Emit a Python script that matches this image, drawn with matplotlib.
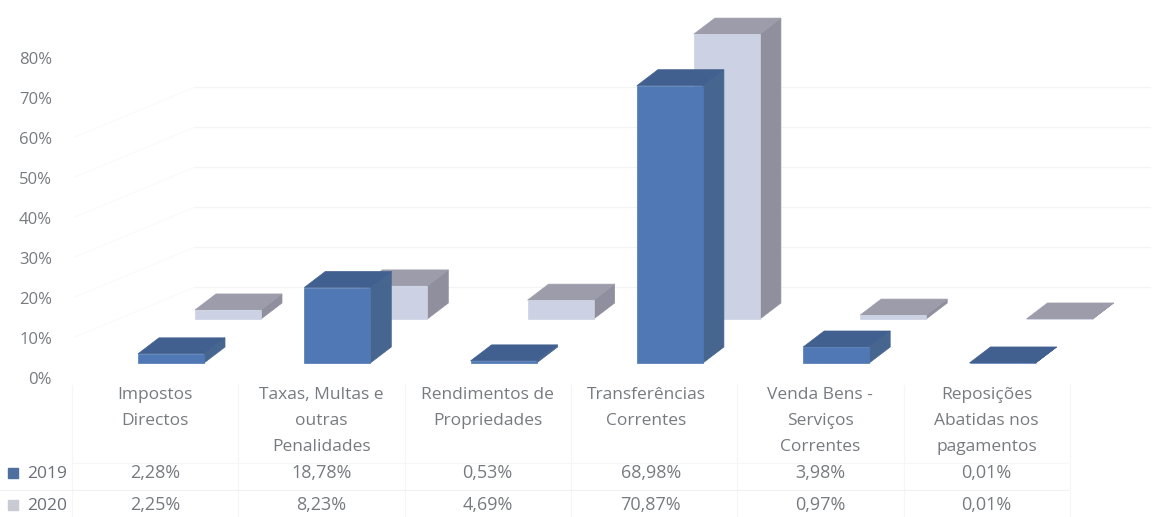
import matplotlib
matplotlib.use("Agg")
import matplotlib.pyplot as plt
from matplotlib.patches import Polygon, Rectangle

plt.rcParams['font.family'] = ['Open Sans', 'DejaVu Sans']

categorias = ["Impostos\nDirectos", "Taxas, Multas e\noutras\nPenalidades",
              "Rendimentos de\nPropriedades", "Transferências\nCorrentes",
              "Venda Bens -\nServiços\nCorrentes", "Reposições\nAbatidas nos\npagamentos"]
anos = ["2019", "2020"]
v2019 = [2.28, 18.78, 0.53, 68.98, 3.98, 0.01]
v2020 = [2.25, 8.23, 4.69, 70.87, 0.97, 0.01]
yticks = [0, 10, 20, 30, 40, 50, 60, 70, 80]

TXT = "#777b80"
PX = 4.02          # pixels por ponto percentual
DX, DY = 21, 16    # profundidade 3D
W = 66
PASSO = 166.3


def fmt(v):
    return f"{v:.2f}%".replace(".", ",")


def barra(ax, x, base, v, frente, topo, lado):
    y = base - v * PX
    # lado, topo e frente
    ax.add_patch(Polygon([(x + W, base), (x + W + DX, base - DY), (x + W + DX, y - DY), (x + W, y)],
                         fc=lado, ec=lado, lw=0.5))
    ax.add_patch(Polygon([(x, y), (x + W, y), (x + W + DX, y - DY), (x + DX, y - DY)],
                         fc=topo, ec=topo, lw=0.5))
    ax.add_patch(Rectangle((x, y), W, base - y, fc=frente, ec=frente, lw=0.5))


fig = plt.figure(figsize=(11.68, 5.17), dpi=100)
ax = fig.add_axes([0, 0, 1, 1])
ax.set_xlim(0, 1168)
ax.set_ylim(517, 0)
ax.axis("off")

# grelha muito clara da parede de fundo e chao
for t in yticks[1:7]:
    y = 327 - t * 4
    ax.plot([195, 1150], [y, y], color="#f3f4f5", lw=0.9, zorder=0)
    ax.plot([75, 195], [y + 50, y], color="#fafafa", lw=0.8, zorder=0)

# eixo y
for t in yticks:
    ax.text(52, 380 - t * 4, f"{t}%", ha="right", va="center", fontsize=12, color=TXT)

# grelha da tabela
for i in range(7):
    x = 72 + i * PASSO
    ax.plot([x, x], [385, 517], color="#f5f5f6", lw=0.8, zorder=0)
ax.plot([0, 1068], [490, 490], color="#f1f1f1", lw=0.8, zorder=0)
ax.plot([72, 1068], [463, 463], color="#f7f7f7", lw=0.8, zorder=0)

# barras 2020 atras, 2019 a frente
for i, v in enumerate(v2020):
    barra(ax, 195 + i * PASSO, 319, v, "#ccd2e3", "#9c9cab", "#8f8f9d")
for i, v in enumerate(v2019):
    barra(ax, 138 + i * PASSO, 363, v, "#4f78b5", "#41608f", "#47668f")

# categorias e valores
for i, c in enumerate(categorias):
    xc = 155 + i * PASSO
    ax.text(xc - 8 if i == 3 else xc, 387, c, ha="center", va="top", fontsize=12.5,
            color=TXT, linespacing=1.83)
    ax.text(xc - 3 if i == 3 else xc, 473, fmt(v2019[i]), ha="center", va="center",
            fontsize=13, color=TXT)
    ax.text(xc - 3 if i == 3 else xc, 505, fmt(v2020[i]), ha="center", va="center",
            fontsize=13, color=TXT)

# legenda
for ano, y, cor in zip(anos, [473, 505], ["#4f6f9f", "#c8cbd2"]):
    ax.add_patch(Rectangle((8, y - 5), 10, 10, fc=cor, ec=cor))
    ax.text(27, y + 1, ano, ha="left", va="center", fontsize=12.5, color="#6a6f78")

fig.savefig("out.png", dpi=100)
